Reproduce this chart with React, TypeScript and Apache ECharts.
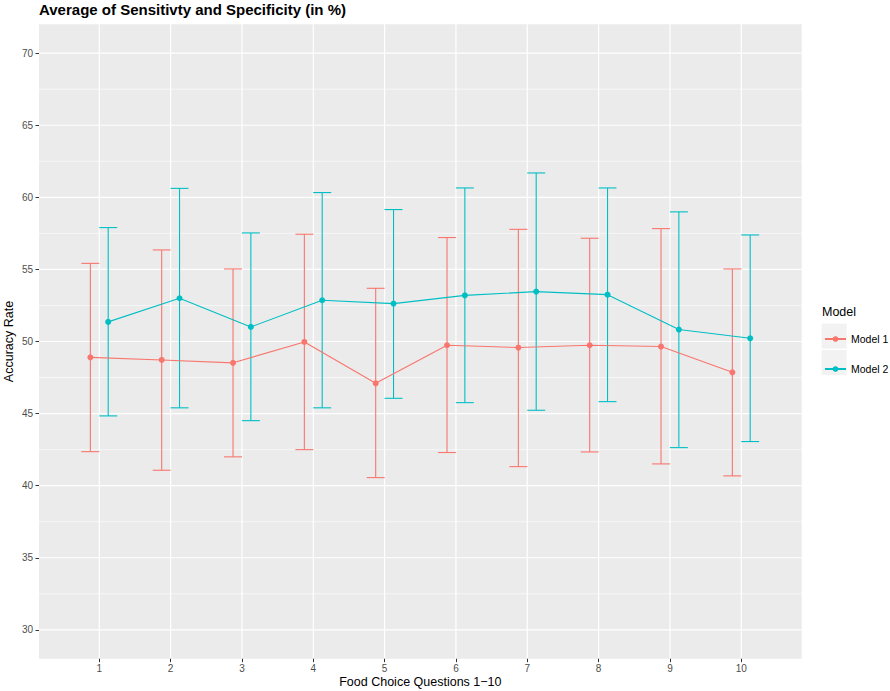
import React, { useEffect, useRef } from "react";
import * as echarts from "echarts";

const questions = [1, 2, 3, 4, 5, 6, 7, 8, 9, 10];
const model1Mean = [48.9, 48.72, 48.52, 49.97, 47.1, 49.74, 49.58, 49.74, 49.65, 47.86];
const model1Low = [42.36, 41.07, 42.0, 42.5, 40.56, 42.3, 41.32, 42.34, 41.51, 40.68];
const model1High = [55.42, 56.35, 55.03, 57.44, 53.69, 57.21, 57.78, 57.16, 57.83, 55.03];
const model2Mean = [51.36, 53.0, 51.01, 52.86, 52.63, 53.2, 53.46, 53.25, 50.83, 50.22];
const model2Low = [44.84, 45.4, 44.51, 45.4, 46.06, 45.76, 45.23, 45.83, 42.64, 43.06];
const model2High = [57.9, 60.62, 57.53, 60.33, 59.15, 60.65, 61.69, 60.65, 58.99, 57.39];
const yMajorTicks = [30, 35, 40, 45, 50, 55, 60, 65, 70];
const yMinorTicks = [32.5, 37.5, 42.5, 47.5, 52.5, 57.5, 62.5, 67.5];
const seriesNames = ["Model 1", "Model 2"];

const X_MIN = 0.155;
const X_MAX = 10.847;
const Y_MIN = 28;
const Y_MAX = 72;
const DODGE = 0.125;
const CAP = 0.126;
const COLORS = ["#F8766D", "#00BFC4"];
const FONT = "Liberation Sans, Arial, Helvetica, sans-serif";

export default function App() {
  const ref = useRef<HTMLDivElement>(null);
  useEffect(() => {
    document.body.style.margin = "0";
    if (!ref.current) return;
    const chart = echarts.init(ref.current, undefined, { renderer: "svg" });

    const hGrid = (values: number[], width: number, name: string) => ({
      type: "custom",
      name,
      silent: true,
      z: 0,
      data: values.map((v) => [X_MIN, v]),
      encode: { x: 0, y: 1 },
      renderItem: (params: any, api: any) => {
        const cs = params.coordSys;
        const y = api.coord([X_MIN, api.value(1)])[1];
        return {
          type: "line",
          shape: { x1: cs.x, y1: y, x2: cs.x + cs.width, y2: y },
          style: { stroke: "#FFFFFF", lineWidth: width },
        };
      },
    });

    const vGrid = {
      type: "custom",
      name: "vgrid",
      silent: true,
      z: 0,
      data: questions.map((q) => [q, Y_MIN]),
      encode: { x: 0, y: 1 },
      renderItem: (params: any, api: any) => {
        const cs = params.coordSys;
        const x = api.coord([api.value(0), Y_MIN])[0];
        return {
          type: "line",
          shape: { x1: x, y1: cs.y, x2: x, y2: cs.y + cs.height },
          style: { stroke: "#FFFFFF", lineWidth: 1.2 },
        };
      },
    };

    const errorBars = (idx: number, lows: number[], highs: number[]) => ({
      type: "custom",
      name: seriesNames[idx] + " error",
      silent: true,
      z: 2,
      data: questions.map((q, i) => [q + (idx === 0 ? -DODGE : DODGE), lows[i], highs[i]]),
      encode: { x: 0, y: [1, 2] },
      renderItem: (params: any, api: any) => {
        const x = api.value(0);
        const lo = api.value(1);
        const hi = api.value(2);
        const pLo = api.coord([x, lo]);
        const pHi = api.coord([x, hi]);
        const xl = api.coord([x - CAP, lo])[0];
        const xr = api.coord([x + CAP, lo])[0];
        const st = { stroke: COLORS[idx], lineWidth: 1.1 };
        return {
          type: "group",
          children: [
            { type: "line", shape: { x1: pLo[0], y1: pLo[1], x2: pHi[0], y2: pHi[1] }, style: st },
            { type: "line", shape: { x1: xl, y1: pLo[1], x2: xr, y2: pLo[1] }, style: st },
            { type: "line", shape: { x1: xl, y1: pHi[1], x2: xr, y2: pHi[1] }, style: st },
          ],
        };
      },
    });

    const lineSeries = (idx: number, means: number[]) => ({
      type: "line",
      name: seriesNames[idx],
      z: 3,
      data: questions.map((q, i) => [q + (idx === 0 ? -DODGE : DODGE), means[i]]),
      symbol: "circle",
      symbolSize: 6,
      showSymbol: true,
      lineStyle: { color: COLORS[idx], width: 1.1 },
      itemStyle: { color: COLORS[idx] },
      emphasis: { disabled: true },
    });

    chart.setOption({
      animation: false,
      textStyle: { fontFamily: FONT },
      title: {
        text: "Average of Sensitivty and Specificity (in %)",
        left: 39,
        top: 2,
        padding: 0,
        textStyle: { fontSize: 15, fontWeight: "bold", color: "#000000", fontFamily: FONT },
      },
      grid: {
        left: 39,
        right: 88.3,
        top: 24.3,
        bottom: 32.3,
        show: true,
        backgroundColor: "#EBEBEB",
        borderWidth: 0,
        containLabel: false,
        outerBoundsMode: "none",
      },
      xAxis: {
        type: "value",
        min: X_MIN,
        max: X_MAX,
        name: "Food Choice Questions 1\u221210",
        nameLocation: "middle",
        nameGap: 17,
        nameMoveOverlap: false,
        nameTextStyle: { fontSize: 12.5, color: "#000000", fontFamily: FONT },
        axisLine: { show: false },
        axisTick: {
          show: true,
          length: 3.5,
          customValues: questions,
          lineStyle: { color: "#333333", width: 1 },
        },
        axisLabel: {
          customValues: questions,
          fontSize: 10,
          color: "#4D4D4D",
          margin: 5,
          fontFamily: FONT,
          formatter: (v: number) => String(Math.round(v)),
        },
        splitLine: { show: false },
      },
      yAxis: {
        type: "value",
        min: Y_MIN,
        max: Y_MAX,
        name: "Accuracy Rate",
        nameLocation: "middle",
        nameGap: 24,
        nameMoveOverlap: false,
        nameTextStyle: { fontSize: 12.5, color: "#000000", fontFamily: FONT },
        axisLine: { show: false },
        axisTick: {
          show: true,
          length: 3.5,
          customValues: yMajorTicks,
          lineStyle: { color: "#333333", width: 1 },
        },
        axisLabel: {
          customValues: yMajorTicks,
          fontSize: 10,
          color: "#4D4D4D",
          margin: 6,
          fontFamily: FONT,
          formatter: (v: number) => String(Math.round(v)),
        },
        splitLine: { show: false },
      },
      legend: {
        data: seriesNames,
        orient: "vertical",
        left: 824,
        top: 333.5,
        itemWidth: 21,
        itemHeight: 7,
        itemGap: 19,
        padding: 0,
        selectedMode: false,
        textStyle: { fontSize: 10.5, color: "#000000", fontFamily: FONT },
      },
      graphic: [
        {
          type: "text",
          left: 822,
          top: 305,
          style: { text: "Model", fontSize: 12.5, fill: "#000000", fontFamily: FONT },
        },
        {
          type: "rect",
          shape: { x: 821.7, y: 323.6, width: 25, height: 25 },
          style: { fill: "#F2F2F2" },
          z: -1,
        },
        {
          type: "rect",
          shape: { x: 821.7, y: 350, width: 25, height: 25 },
          style: { fill: "#F2F2F2" },
          z: -1,
        },
      ],
      series: [
        hGrid(yMinorTicks, 0.6, "minor"),
        hGrid(yMajorTicks, 1.2, "major"),
        vGrid,
        errorBars(0, model1Low, model1High),
        errorBars(1, model2Low, model2High),
        lineSeries(0, model1Mean),
        lineSeries(1, model2Mean),
      ],
    });
    return () => chart.dispose();
  }, []);
  return <div ref={ref} style={{ width: 890, height: 691 }} />;
}
